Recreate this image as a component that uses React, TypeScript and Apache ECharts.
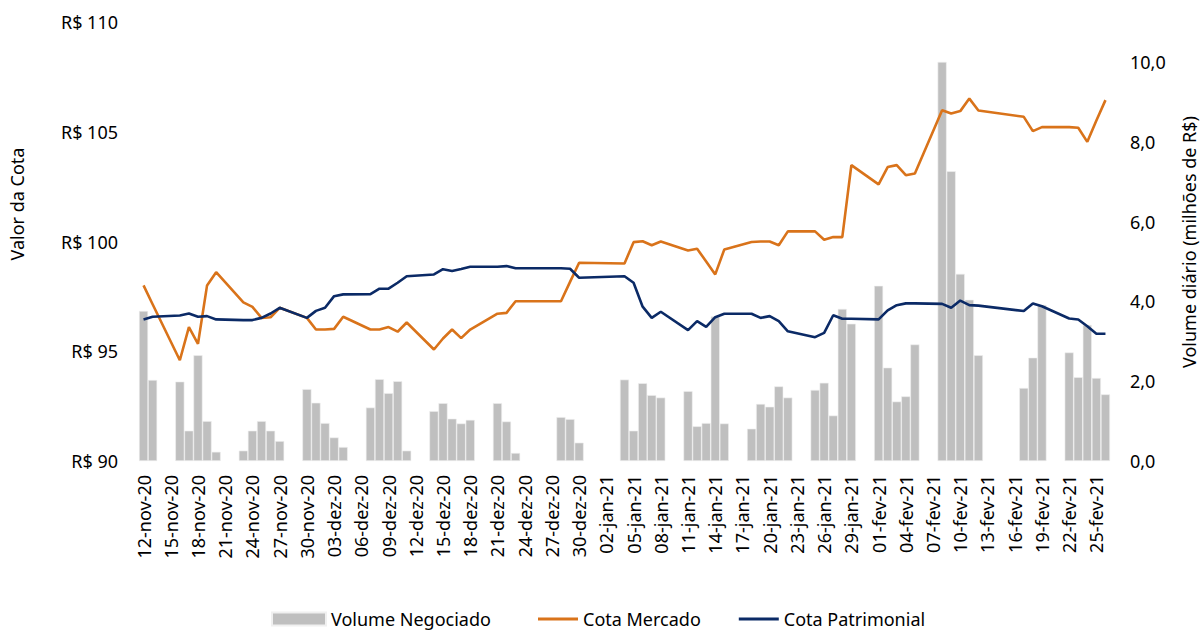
import React, { useEffect, useRef } from "react";
import * as echarts from "echarts";

const MONTHS = ["jan", "fev", "mar", "abr", "mai", "jun", "jul", "ago", "set", "out", "nov", "dez"];

// calendar days 12-nov-20 .. 26-feb-21
function buildDates(): string[] {
  const out: string[] = [];
  const d = new Date(Date.UTC(2020, 10, 12));
  const end = Date.UTC(2021, 1, 26);
  while (d.getTime() <= end) {
    out.push(
      `${String(d.getUTCDate()).padStart(2, "0")}-${MONTHS[d.getUTCMonth()]}-${String(d.getUTCFullYear()).slice(2)}`
    );
    d.setUTCDate(d.getUTCDate() + 1);
  }
  return out;
}
const dates = buildDates();

const volume: (number | null)[] = [
  3.76, 2.03, null, null,
  1.99, 0.76, 2.65, 1.0, 0.23, null, null,
  0.26, 0.76, 1.0, 0.76, 0.5, null, null,
  1.8, 1.46, 0.95, 0.59, 0.35, null, null,
  1.34, 2.05, 1.7, 2.0, 0.26, null, null,
  1.25, 1.45, 1.06, 0.94, 1.03, null, null,
  1.45, 0.99, 0.2, null, null, null, null,
  1.1, 1.05, 0.46, null, null, null, null,
  2.04, 0.76, 1.95, 1.65, 1.59, null, null,
  1.75, 0.87, 0.95, 3.62, 0.94, null, null,
  0.81, 1.43, 1.36, 1.87, 1.59, null, null,
  1.78, 1.96, 1.14, 3.81, 3.44, null, null,
  4.39, 2.34, 1.49, 1.62, 2.92, null, null,
  10.0, 7.26, 4.69, 4.04, 2.65, null, null,
  null, null, 1.83, 2.59, 3.91, null, null,
  2.72, 2.1, 3.41, 2.08, 1.67,
];

const cotaMercado: (number | null)[] = [
  98.0, 97.14, null, null,
  94.59, 96.1, 95.34, 98.0, 98.6, null, null,
  97.23, 97.02, 96.52, 96.55, 96.98, null, null,
  96.52, 95.99, 95.99, 96.02, 96.57, null, null,
  95.99, 95.99, 96.1, 95.89, 96.31, null, null,
  95.08, 95.58, 95.99, 95.6, 95.99, null, null,
  96.71, 96.75, 97.28, null, null, null, null,
  97.28, 98.16, 99.03, null, null, null, null,
  99.0, 99.97, 100.01, 99.83, 100.0, null, null,
  99.59, 99.67, 99.09, 98.5, 99.64, null, null,
  99.98, 100.0, 100.0, 99.83, 100.46, null, null,
  100.46, 100.08, 100.2, 100.2, 103.48, null, null,
  102.6, 103.39, 103.48, 103.02, 103.1, null, null,
  105.98, 105.83, 105.94, 106.51, 105.97, null, null,
  null, null, 105.68, 105.03, 105.21, null, null,
  105.21, 105.18, 104.54, 105.51, 106.44,
];

const cotaPatrimonial: (number | null)[] = [
  96.45, 96.57, null, null,
  96.63, 96.72, 96.57, 96.6, 96.45, null, null,
  96.42, 96.42, 96.52, 96.72, 96.98, null, null,
  96.52, 96.84, 96.98, 97.51, 97.59, null, null,
  97.6, 97.85, 97.85, 98.12, 98.42, null, null,
  98.5, 98.74, 98.66, 98.75, 98.85, null, null,
  98.85, 98.88, 98.78, null, null, null, null,
  98.78, 98.76, 98.35, null, null, null, null,
  98.42, 98.12, 97.03, 96.52, 96.8, null, null,
  95.96, 96.37, 96.11, 96.55, 96.71, null, null,
  96.71, 96.52, 96.6, 96.37, 95.91, null, null,
  95.64, 95.84, 96.64, 96.48, 96.48, null, null,
  96.45, 96.86, 97.1, 97.18, 97.18, null, null,
  97.16, 96.98, 97.31, 97.1, 97.08, null, null,
  null, null, 96.83, 97.18, 97.05, null, null,
  96.49, 96.45, 96.14, 95.8, 95.8,
];

const FONT = "Noto Sans";
const ORANGE = "#D9731A";
const NAVY = "#0B2A66";
const GRAY = "#BFBFBF";

export default function App() {
  const ref = useRef<HTMLDivElement>(null);
  useEffect(() => {
    document.body.style.margin = "0";
    if (!ref.current) return;
    const chart = echarts.init(ref.current, undefined, { renderer: "svg" });
    const legendText = { fontFamily: FONT, fontSize: 18, color: "#000", lineHeight: 18 };
    chart.setOption({
      animation: false,
      backgroundColor: "#ffffff",
      textStyle: { fontFamily: FONT },
      grid: { left: 139, right: 91, top: 22, bottom: 174 },
      legend: [
        {
          left: 271,
          top: 610,
          padding: 0,
          icon: "rect",
          itemWidth: 54,
          itemHeight: 13,
          textStyle: legendText,
          data: ["Volume Negociado"],
        },
        {
          left: 538,
          top: 610,
          padding: 0,
          icon: "rect",
          itemWidth: 40,
          itemHeight: 3,
          itemGap: 38,
          textStyle: legendText,
          data: ["Cota Mercado", "Cota Patrimonial"],
        },
      ],
      xAxis: {
        type: "category",
        data: dates,
        boundaryGap: true,
        axisLine: { show: false },
        axisTick: { show: false },
        axisLabel: {
          interval: 2,
          rotate: 90,
          margin: 14,
          fontFamily: FONT,
          fontSize: 18,
          color: "#000",
        },
      },
      yAxis: [
        {
          type: "value",
          min: 90,
          max: 110,
          interval: 5,
          splitLine: { show: false },
          axisLine: { show: false },
          axisTick: { show: false },
          axisLabel: {
            margin: 21,
            fontFamily: FONT,
            fontSize: 18,
            color: "#000",
            formatter: (v: number) => `R$ ${v}`,
          },
        },
        {
          type: "value",
          min: 0,
          max: 11,
          interval: 2,
          splitLine: { show: false },
          axisLine: { show: false },
          axisTick: { show: false },
          axisLabel: {
            margin: 20,
            fontFamily: FONT,
            fontSize: 18,
            color: "#000",
            showMaxLabel: false,
            formatter: (v: number) => (v > 10.5 ? "" : v.toFixed(1).replace(".", ",")),
          },
        },
      ],
      graphic: [
        {
          type: "text",
          x: 17,
          y: 204,
          rotation: Math.PI / 2,
          style: {
            text: "Valor da Cota",
            fontFamily: FONT,
            fontSize: 18,
            fill: "#000",
            align: "center",
            verticalAlign: "middle",
          },
        },
        {
          type: "text",
          x: 1189,
          y: 242,
          rotation: Math.PI / 2,
          style: {
            text: "Volume diário (milhões de R$)",
            fontFamily: FONT,
            fontSize: 18,
            fill: "#000",
            align: "center",
            verticalAlign: "middle",
          },
        },
      ],
      series: [
        {
          name: "Volume Negociado",
          type: "bar",
          yAxisIndex: 1,
          data: volume,
          barCategoryGap: "0%",
          itemStyle: { color: GRAY, borderColor: "#f0f0f0", borderWidth: 0.6 },
        },
        {
          name: "Cota Mercado",
          type: "line",
          yAxisIndex: 0,
          data: cotaMercado,
          connectNulls: true,
          symbol: "none",
          lineStyle: { color: ORANGE, width: 2.6 },
          itemStyle: { color: ORANGE },
        },
        {
          name: "Cota Patrimonial",
          type: "line",
          yAxisIndex: 0,
          data: cotaPatrimonial,
          connectNulls: true,
          symbol: "none",
          lineStyle: { color: NAVY, width: 2.6 },
          itemStyle: { color: NAVY },
        },
      ],
    });
    return () => chart.dispose();
  }, []);
  return <div ref={ref} style={{ width: 1201, height: 635 }} />;
}
